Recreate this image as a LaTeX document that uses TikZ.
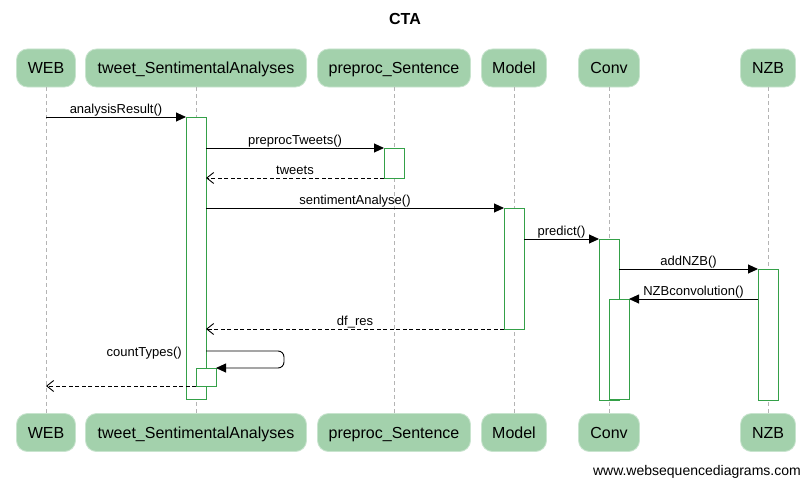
\documentclass[tikz,border=0pt]{standalone}
\usepackage{fontspec}
\setmainfont{Liberation Sans}
\usetikzlibrary{arrows.meta}
\definecolor{partfill}{RGB}{163,209,172}
\definecolor{partedge}{RGB}{200,228,206}
\definecolor{actgreen}{RGB}{52,160,72}
\definecolor{lifegray}{RGB}{180,180,180}
\begin{document}
\begin{tikzpicture}[x=1pt,y=-1pt,
  part/.style={rounded corners=11pt, fill=partfill, draw=partedge, line width=0.8pt, minimum height=38pt, inner sep=0pt, text height=11.5pt, text depth=0pt, font=\fontsize{16}{19}\selectfont},
  life/.style={draw=lifegray, line width=0.8pt, dash pattern=on 4pt off 3pt},
  act/.style={draw=actgreen, fill=white, line width=1pt, minimum width=20pt, inner sep=0pt, outer sep=0pt, anchor=north},
  msg/.style={draw=black, line width=0.9pt, -{Triangle[length=10pt,width=9pt]}},
  ret/.style={draw=black, line width=0.9pt, dash pattern=on 4pt off 2.5pt, -{Straight Barb[length=7pt,width=11pt]}},
  lbl/.style={font=\fontsize{13}{15}\selectfont, inner sep=0pt, anchor=base, yshift=3.5pt},
]
\useasboundingbox (0,0) rectangle (810,487);
\fill[white] (0,0) rectangle (810,487);

% title
\node[font=\bfseries\fontsize{16}{19}\selectfont, anchor=base, inner sep=0pt] (title) at (405,25) {CTA};

% participants
\node[part, minimum width=59pt]  (webT)  at (46,68)  {WEB};
\node[part, minimum width=221pt] (twT)   at (196,68) {tweet\_SentimentalAnalyses};
\node[part, minimum width=153pt] (ppT)   at (394,68) {preproc\_Sentence};
\node[part, minimum width=65pt]  (modT)  at (514,68) {Model};
\node[part, minimum width=61pt]  (convT) at (609,68) {Conv};
\node[part, minimum width=55pt]  (nzbT)  at (768,68) {NZB};

\node[part, minimum width=59pt]  (webB)  at (46,432.5)  {WEB};
\node[part, minimum width=221pt] (twB)   at (196,432.5) {tweet\_SentimentalAnalyses};
\node[part, minimum width=153pt] (ppB)   at (394,432.5) {preproc\_Sentence};
\node[part, minimum width=65pt]  (modB)  at (514,432.5) {Model};
\node[part, minimum width=61pt]  (convB) at (609,432.5) {Conv};
\node[part, minimum width=55pt]  (nzbB)  at (768,432.5) {NZB};

% lifelines
\draw[life] (webT) -- (webB);
\draw[life] (twT) -- (twB);
\draw[life] (ppT) -- (ppB);
\draw[life] (modT) -- (modB);
\draw[life] (convT) -- (convB);
\draw[life] (nzbT) -- (nzbB);

% activations
\node[act, minimum height=282pt] (actT)  at (196,117) {};
\node[act, minimum height=30pt]  (actP)  at (394,148) {};
\node[act, minimum height=121pt] (actM)  at (514,208) {};
\node[act, minimum height=161pt] (actC)  at (609,239) {};
\node[act, minimum height=131pt] (actN)  at (768,269) {};
\node[act, minimum height=100pt] (actC2) at (619,299) {};
\node[act, minimum height=18pt]  (actT2) at (206,368) {};

% message endpoints on lifelines
\coordinate (w1) at (46,117);
\coordinate (w2) at (46,386);
\coordinate (ct) at (206,351);

% messages
\draw[msg] (w1) -- node[lbl] (l1) {analysisResult()} (actT.north west);
\draw[msg] (actT.east |- actP.north) -- node[lbl] (l2) {preprocTweets()} (actP.north west);
\draw[ret] (actP.south west) -- node[lbl] (l3) {tweets} (actT.east |- actP.south);
\draw[msg] (actT.east |- actM.north) -- node[lbl] (l4) {sentimentAnalyse()} (actM.north west);
\draw[msg] (actM.east |- actC.north) -- node[lbl] (l5) {predict()} (actC.north west);
\draw[msg] (actC.east |- actN.north) -- node[lbl] (l6) {addNZB()} (actN.north west);
\draw[msg] (actN.west |- actC2.north) -- node[lbl] (l7) {NZBconvolution()} (actC2.north east);
\draw[ret] (actM.south west) -- node[lbl] (l8) {df\_res} (actT.east |- actM.south);
\draw[msg, rounded corners=6pt] (ct) -- ++(78,0) |- (actT2.north east);
\node[font=\fontsize{13}{15}\selectfont, inner sep=0pt, anchor=base east] (l9) at (182,356) {countTypes()};
\draw[ret] (actT2.south west) -- (w2);

% footer
\node[font=\fontsize{14}{17}\selectfont, inner sep=0pt, anchor=base east] (foot) at (801,475) {www.websequencediagrams.com};
\end{tikzpicture}
\end{document}
